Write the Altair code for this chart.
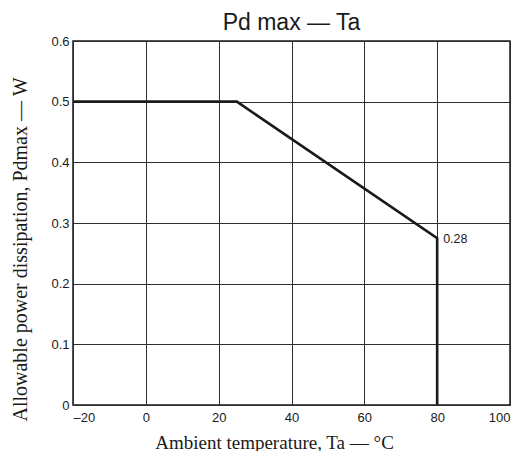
import altair as alt
import pandas as pd

temps = [-20, 25, 80, 80]
power = [0.5, 0.5, 0.275, 0.0]
order = [0, 1, 2, 3]

label_t = [80]
label_p = [0.275]
label_txt = ["0.28"]

x_ticks = [-20, 0, 20, 40, 60, 80, 100]
y_ticks = [0, 0.1, 0.2, 0.3, 0.4, 0.5, 0.6]

df = pd.DataFrame({"t": temps, "p": power, "o": order})
lab = pd.DataFrame({"t": label_t, "p": label_p, "txt": label_txt})

xs = alt.Scale(domain=[-20, 100], nice=False)
ys = alt.Scale(domain=[0, 0.6], nice=False)

xaxis = alt.Axis(values=x_ticks, title="Ambient temperature, Ta — °C",
                 labelExpr="replace(datum.label, '−', '–')",
                 labelPadding=6, titleFontSize=19,
                 titleX=201, titleY=43, titleBaseline="alphabetic")
yaxis = alt.Axis(values=y_ticks, title="Allowable power dissipation, Pdmax — W",
                 labelExpr="datum.value == 0 ? '0' : format(datum.value, '.1f')",
                 labelPadding=4, titleFontSize=20,
                 titleX=-47, titleY=208, titleBaseline="alphabetic")

line = alt.Chart(df).mark_line(color="#1a1a1a", strokeWidth=2.6).encode(
    x=alt.X("t:Q", scale=xs, axis=xaxis),
    y=alt.Y("p:Q", scale=ys, axis=yaxis),
    order="o:Q",
)

text = alt.Chart(lab).mark_text(align="left", baseline="middle", dx=6, dy=1,
                                fontSize=12.5, font="Liberation Sans", color="#1a1a1a").encode(
    x=alt.X("t:Q", scale=xs),
    y=alt.Y("p:Q", scale=ys),
    text="txt:N",
)

chart = alt.layer(line, text).properties(
    width=437, height=364,
    title=alt.TitleParams("Pd max — Ta", font="Liberation Sans", fontSize=23,
                          fontWeight="normal", color="#1a1a1a", offset=0,
                          anchor="middle"),
    autosize=alt.AutoSizeParams(type="none"),
    padding={"left": 65, "top": 33, "right": 7, "bottom": 46},
).configure_view(
    stroke="#1a1a1a", strokeWidth=1.5
).configure_axis(
    grid=True, gridColor="#2e2e2e", gridWidth=1, gridOpacity=1,
    domain=False, ticks=False,
    labelFont="Liberation Sans", labelFontSize=13, labelColor="#1a1a1a",
    titleFont="Liberation Serif", titleFontWeight="normal",
    titleColor="#1a1a1a",
)

chart.save("out.html", embed_options={"renderer": "svg", "actions": False})
